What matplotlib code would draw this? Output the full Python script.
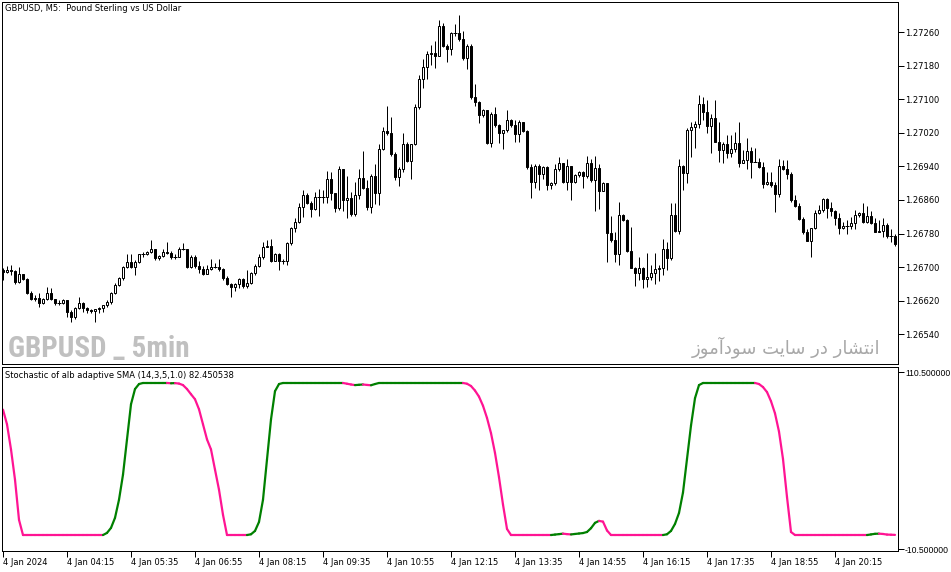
import matplotlib
matplotlib.use("Agg")
import matplotlib.pyplot as plt
from matplotlib.collections import LineCollection
from matplotlib import font_manager
import numpy as np

W, H = 951, 572

# prices are stored in points above 1.26000 (1 point = 0.00001)
base_price = 1.26
first_open_pts = 693
close_pts = [
    688, 693, 690, 664, 683, 671, 638, 623, 626, 614,
    623, 638, 623, 614, 614, 621, 592, 581, 602, 614,
    602, 597, 595, 600, 602, 609, 616, 638, 657, 674,
    700, 712, 700, 712, 731, 731, 736, 743, 721, 726,
    736, 733, 724, 724, 743, 743, 700, 724, 702, 695,
    683, 695, 700, 700, 695, 674, 659, 652, 659, 671,
    654, 662, 685, 702, 724, 747, 750, 714, 731, 714,
    714, 757, 793, 807, 843, 871, 852, 838, 867, 867,
    867, 910, 876, 840, 933, 859, 864, 826, 871, 912,
    888, 843, 917, 876, 981, 1024, 1019, 969, 914, 933,
    993, 952, 993, 1081, 1148, 1177, 1208, 1210, 1203, 1274,
    1227, 1219, 1258, 1258, 1243, 1198, 1227, 1105, 1093, 1062,
    1074, 995, 1065, 1038, 1019, 1026, 1050, 1038, 1017, 1045,
    1024, 938, 902, 941, 921, 938, 895, 900, 933, 948,
    902, 941, 902, 919, 926, 917, 948, 907, 936, 881,
    900, 781, 764, 731, 824, 812, 738, 697, 685, 697,
    671, 676, 685, 695, 697, 743, 721, 824, 786, 941,
    924, 1026, 1034, 1041, 1088, 1069, 1036, 1055, 998, 979,
    993, 972, 981, 995, 948, 955, 976, 950, 950, 938,
    898, 902, 895, 874, 941, 933, 921, 859, 845, 814,
    783, 762, 793, 828, 836, 862, 840, 833, 817, 793,
    798, 798, 805, 824, 828, 807, 821, 805, 783, 786,
    800, 774, 774, 755,
]
high_pts = [
    697, 702, 705, 693, 701, 683, 673, 643, 633, 639,
    627, 653, 651, 625, 621, 623, 621, 597, 605, 629,
    617, 605, 599, 601, 605, 609, 621, 641, 661, 677,
    702, 731, 732, 717, 732, 736, 739, 764, 744, 728,
    742, 760, 739, 732, 747, 758, 744, 728, 728, 715,
    702, 705, 720, 709, 720, 697, 678, 662, 662, 675,
    673, 694, 689, 707, 731, 760, 764, 766, 734, 734,
    720, 760, 796, 818, 852, 884, 876, 857, 879, 887,
    884, 928, 926, 876, 940, 934, 918, 879, 903, 934,
    976, 907, 922, 946, 994, 1034, 1085, 1059, 974, 938,
    1020, 998, 994, 1088, 1159, 1197, 1215, 1229, 1240, 1288,
    1283, 1233, 1260, 1280, 1300, 1262, 1233, 1231, 1136, 1097,
    1077, 1075, 1070, 1081, 1042, 1027, 1074, 1054, 1050, 1050,
    1046, 1027, 945, 945, 946, 942, 940, 903, 945, 962,
    948, 958, 942, 922, 930, 930, 965, 957, 966, 945,
    903, 899, 822, 784, 856, 826, 814, 796, 701, 725,
    701, 733, 706, 733, 705, 768, 760, 854, 854, 958,
    943, 1031, 1047, 1048, 1110, 1106, 1098, 1066, 1098, 1045,
    999, 1015, 1016, 1023, 1045, 979, 1007, 987, 985, 961,
    951, 926, 926, 903, 958, 955, 955, 926, 872, 852,
    820, 792, 794, 836, 848, 865, 864, 856, 836, 828,
    808, 812, 820, 836, 832, 854, 846, 833, 816, 812,
    818, 806, 791, 778,
]
low_pts = [
    669, 685, 681, 659, 662, 669, 635, 621, 620, 604,
    612, 621, 621, 609, 609, 612, 581, 569, 577, 601,
    593, 591, 591, 569, 591, 593, 605, 612, 637, 654,
    669, 697, 697, 681, 710, 724, 728, 734, 717, 717,
    723, 732, 720, 720, 723, 740, 699, 699, 699, 685,
    681, 685, 693, 697, 691, 669, 657, 629, 643, 649,
    649, 651, 659, 681, 701, 720, 747, 713, 717, 694,
    707, 705, 752, 784, 804, 819, 851, 819, 835, 823,
    853, 853, 860, 831, 835, 833, 817, 823, 823, 863,
    887, 837, 829, 851, 849, 978, 1016, 964, 907, 893,
    926, 950, 911, 990, 1077, 1127, 1149, 1181, 1175, 1205,
    1225, 1189, 1206, 1252, 1240, 1194, 1173, 1101, 1085, 1043,
    1059, 994, 986, 1034, 996, 982, 1022, 1034, 998, 998,
    1022, 934, 864, 888, 883, 911, 883, 887, 895, 929,
    900, 883, 859, 900, 914, 888, 913, 904, 833, 838,
    881, 713, 760, 713, 706, 810, 737, 697, 655, 669,
    649, 653, 669, 659, 667, 681, 693, 717, 784, 778,
    885, 901, 963, 983, 1031, 1051, 1019, 971, 999, 951,
    947, 959, 963, 975, 939, 947, 934, 913, 950, 937,
    889, 896, 892, 832, 868, 931, 911, 856, 844, 812,
    780, 763, 725, 791, 826, 832, 816, 822, 800, 780,
    791, 780, 792, 791, 820, 806, 806, 802, 784, 784,
    772, 770, 760, 751,
]
stoch = [
    82.45, 72.8, 56.3, 36.4, 10, 0, 0, 0, 0, 0,
    0, 0, 0, 0, 0, 0, 0, 0, 0, 0,
    0, 0, 0, 0, 0, 0, 1.4, 4.7, 11.3, 23.2,
    39.7, 62.9, 86, 96, 99.3, 100, 100, 100, 100, 100,
    100, 100, 99.8, 99.9, 99.6, 98.6, 96, 92.6, 89.3, 82.7,
    72.8, 62.9, 56.3, 43, 29.8, 13.3, 0, 0, 0, 0,
    0, 0, 0.5, 2.7, 8.6, 23.2, 49.7, 76, 94.6, 99.3,
    100, 100, 100, 100, 100, 100, 100, 100, 100, 100,
    100, 100, 100, 100, 100, 100, 99.5, 99.0, 98.6, 98.8,
    99.0, 98.7, 98.5, 99.3, 100, 100, 100, 100, 100, 100,
    100, 100, 100, 100, 100, 100, 100, 100, 100, 100,
    100, 100, 100, 100, 100, 100, 99.5, 98, 95, 91,
    85, 77, 67, 54, 38, 20, 4, 0, 0, 0,
    0, 0, 0, 0, 0, 0, 0, 0, 0.3, 0.6,
    0.9, 0.6, 0.4, 0.7, 1.0, 1.3, 2.0, 4.5, 8, 9.3,
    8.8, 3, 0, 0, 0, 0, 0, 0, 0, 0,
    0, 0, 0, 0, 0, 0, 0.5, 2.7, 7.3, 14.5,
    28, 50, 72, 90, 98.6, 100, 100, 100, 100, 100,
    100, 100, 100, 100, 100, 100, 100, 100, 100, 99.3,
    97.3, 94, 88, 80, 68, 50, 25, 2, 0, 0,
    0, 0, 0, 0, 0, 0, 0, 0, 0, 0,
    0, 0, 0, 0, 0, 0, 0, 0.4, 0.8, 0.9,
    0.7, 0.3, 0.2, 0.1,
]

price_ticks = [1.26540, 1.26620, 1.26700, 1.26780, 1.26860,
               1.26940, 1.27020, 1.27100, 1.27180, 1.27260]
time_tick_bars = [0, 16, 32, 48, 64, 80, 96, 112, 128, 144, 160, 176, 192, 208]
time_tick_labels = ["4 Jan 2024", "4 Jan 04:15", "4 Jan 05:35", "4 Jan 06:55",
                    "4 Jan 08:15", "4 Jan 09:35", "4 Jan 10:55", "4 Jan 12:15",
                    "4 Jan 13:35", "4 Jan 14:55", "4 Jan 16:15", "4 Jan 17:35",
                    "4 Jan 18:55", "4 Jan 20:15"]

closes = base_price + np.array(close_pts) / 1e5
opens = np.concatenate([[base_price + first_open_pts / 1e5], closes[:-1]])
highs = np.maximum(base_price + np.array(high_pts) / 1e5, np.maximum(opens, closes))
lows = np.minimum(base_price + np.array(low_pts) / 1e5, np.minimum(opens, closes))
x = np.arange(len(closes))

plt.rcParams['font.family'] = ['DejaVu Sans']
fs = 6
px = 0.72  # one pixel in points

# narrow bold face for the watermark, if one is installed
names = {f.name for f in font_manager.fontManager.ttflist}
wm_family = "DejaVu Sans"
wm_size = 16
for cand in ["Liberation Sans Narrow", "Roboto Condensed", "DejaVu Sans Condensed"]:
    if cand in names:
        wm_family = cand
        wm_size = 21
        break

fig = plt.figure(figsize=(W / 100, H / 100), dpi=100)
fig.patch.set_facecolor("white")
ax = fig.add_axes([2 / W, 1 - 364 / H, 896 / W, 362 / H])
ax2 = fig.add_axes([2 / W, 1 - 551 / H, 896 / W, 184 / H])

# candles
up = closes >= opens
ax.vlines(x, lows, highs, color="black", linewidth=px, zorder=2)
body = closes - opens
ax.bar(x, body, bottom=opens, width=0.62, color=np.where(up, "white", "black"),
       edgecolor="black", linewidth=px, zorder=3)
doji = closes == opens
ax.hlines(closes[doji], x[doji] - 0.4, x[doji] + 0.4, color="black", linewidth=px, zorder=3)

ax.set_xlim(-0.25, 223.75)
ax.set_ylim(1.26469, 1.27332)
ax.yaxis.tick_right()
ax.set_yticks(price_ticks)
ax.set_yticklabels([f"{p:.5f}" for p in price_ticks], fontsize=fs)
ax.tick_params(axis="y", direction="out", length=4, width=px, pad=1)
ax.set_xticks([])
for s in ax.spines.values():
    s.set_linewidth(px)

# stochastic line: green when rising, pink when falling
segs = []
cols = []
c = "#ff1493"
for i in range(1, len(stoch)):
    if stoch[i] > stoch[i - 1]:
        c = "#008000"
    elif stoch[i] < stoch[i - 1]:
        c = "#ff1493"
    segs.append([(x[i - 1], stoch[i - 1]), (x[i], stoch[i])])
    cols.append(c)
ax2.add_collection(LineCollection(segs, colors=cols, linewidths=1.6, capstyle="round"))
ax2.set_xlim(-0.25, 223.75)
ax2.set_ylim(-10.5, 110.5)
ax2.yaxis.tick_right()
ax2.set_yticks([107.2, -9.2])
ax2.set_yticklabels(["110.500000", "-10.500000"], fontsize=6.2,
                    family=["Liberation Sans", "DejaVu Sans"])
ax2.tick_params(axis="y", direction="out", length=4, width=px, pad=1)
ax2.set_xticks(time_tick_bars)
ax2.set_xticklabels(time_tick_labels, fontsize=fs, ha="left")
ax2.tick_params(axis="x", direction="out", length=4, width=px, pad=1)
for s in ax2.spines.values():
    s.set_linewidth(px)

fig.text(5 / W, 1 - 4 / H, "GBPUSD, M5:  Pound Sterling vs US Dollar", fontsize=fs, va="top")
fig.text(5 / W, 1 - 371 / H, "Stochastic of alb adaptive SMA (14,3,5,1.0) 82.450538", fontsize=fs, va="top")

fig.text(8 / W, 1 - 357 / H, "GBPUSD _ 5min", fontsize=wm_size, fontweight="bold", color="#c0c0c0",
         family=[wm_family, "DejaVu Sans"], va="baseline")
fa = "\ufeaf\ufeee\ufee3\ufe81\ufea9\ufeee\ufeb3 \ufe96\ufef3\ufe8e\ufeb3 \ufead\ufea9 \ufead\ufe8e\ufeb8\ufe98\ufee7\ufe8d"
fig.text(880 / W, 1 - 353 / H, fa, fontsize=13, color="#a8a8a8", ha="right", va="baseline",
         family=["DejaVu Sans"])

fig.savefig("out.png", dpi=100)
